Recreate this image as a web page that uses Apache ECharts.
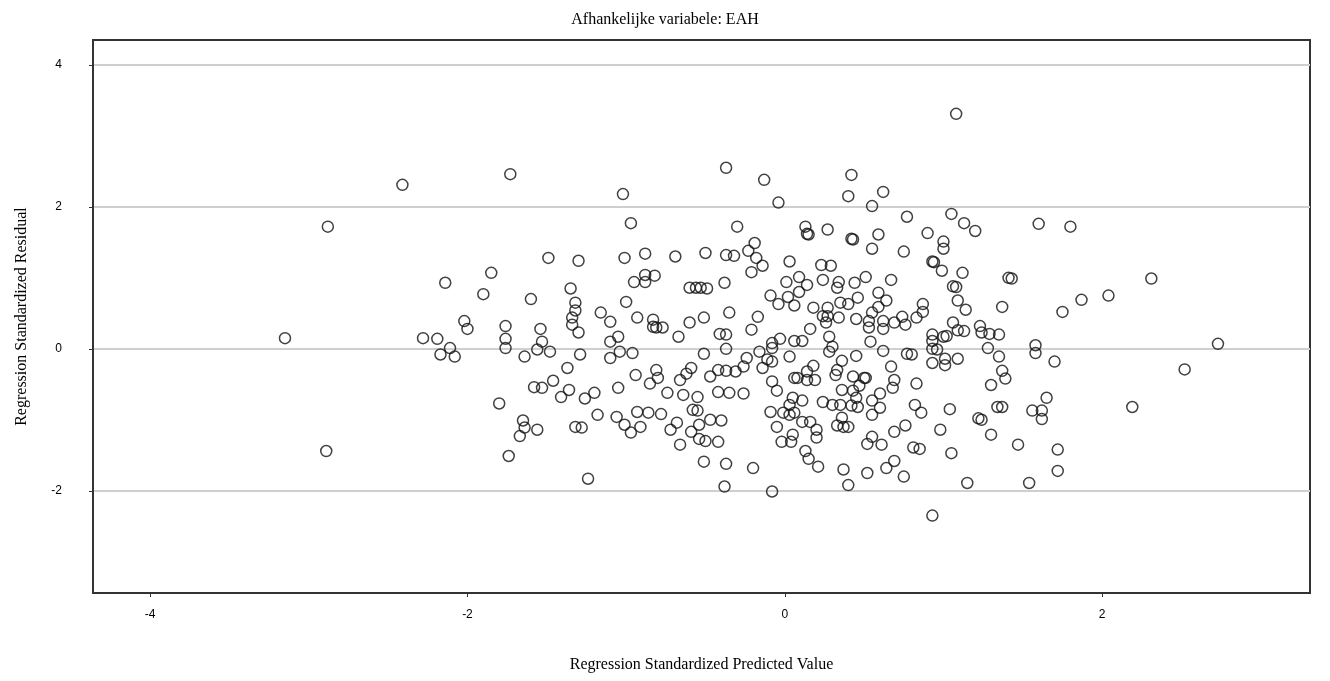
<!DOCTYPE html>
<html>
<head>
    <meta charset="utf-8">
    <title>Afhankelijke variabele: EAH</title>
    <script src="https://cdn.jsdelivr.net/npm/echarts@6.0.0/dist/echarts.min.js"></script>
    <style>
        html, body { margin: 0; padding: 0; background: #fff; }
    </style>
</head>
<body>
    <div id="main" style="width: 1330px;height:681px;"></div>
    <script type="text/javascript">
        // 刻度
        var xTicks = [-4, -2, 0, 2];
        var yTicks = [-2, 0, 2, 4];

        // 預測值 / 殘差
        var predicted = [
            -3.15, -2.89, -2.88, -2.41, -2.28, -2.19, -2.11, -2.14, -2.02, -2.00, -2.17, -2.08,
            -1.73, -1.02, -0.97, -1.49, -1.30, -1.01, -1.85, -1.90, -1.60, -1.35, -1.32, -1.32, -1.34, -1.34, -1.30,
            -1.00, -1.16, -1.10, -1.05, -1.10, -1.76, -1.76, -1.54, -1.53,
            -1.76, -1.64, -1.56, -1.48, -1.29, -1.10, -1.04, -1.37, -1.58, -1.53, -1.46, -1.41, -1.36, -1.26, -1.20,
            -1.05, -1.80, -1.18, -1.06, -1.01, -1.65, -1.64, -1.67, -1.56, -1.32, -1.28, -1.74, -1.24,
            -0.37, -0.13, -0.04, -0.30, -0.19, -0.23, -0.18, -0.14, -0.21, -0.88, -0.69, -0.50, -0.37, -0.32,
            -0.95, -0.88, -0.88, -0.82, -0.38, -0.60, -0.56, -0.53, -0.49, -0.09, -0.04, -0.93, -0.83, -0.83, -0.81,
            -0.77, -0.67, -0.60, -0.51, -0.35, -0.17, -0.41, -0.37, -0.21, -0.08, -0.03,
            -0.96, -0.51, -0.37, -0.24, -0.16, -0.08, -0.11, -0.08, -0.14, -0.94, -0.81, -0.80, -0.85, -0.66, -0.62,
            -0.59, -0.47, -0.42, -0.37, -0.31, -0.26, -0.74, -0.64, -0.55, -0.42, -0.35, -0.26, -0.08, -0.05, -0.93,
            -0.86, -0.78, -0.58, -0.55, -0.47, -0.40, -0.54, -0.68, -0.72, -0.59, -0.97, -0.91, -0.54, -0.50, -0.42,
            -0.66, -0.51, -0.37, -0.20, -0.38, -0.08, -0.09, -0.01, -0.05, -0.02,
            0.42, 0.40, 0.62, 0.55, 0.77, 1.05, 0.13, 0.14, 0.15, 0.27, 0.42, 0.43, 0.59, 0.55, 0.75, 0.90, 1.00, 1.00,
            0.03, 0.23, 0.29, 0.93, 0.94, 0.99, 0.09, 0.01, 0.14, 0.24, 0.34, 0.33, 0.44, 0.51, 0.67, 0.09, 0.02, 0.06,
            0.18, 0.27, 0.24, 0.26, 0.27, 0.35, 0.40, 0.34, 0.46, 0.59, 0.64, 0.59, 0.55, 0.45, 0.53, 0.53, 0.62, 0.62,
            0.69, 0.74, 0.76, 0.83, 0.87, 0.87, 0.16, 0.28, 0.93, 0.93, 1.00, 1.02, 0.06, 0.11, 0.54,
            0.03, 0.28, 0.30, 0.36, 0.45, 0.62, 0.77, 0.80, 0.93, 0.96, 0.93, 1.01, 1.01, 0.67, 0.18, 0.14, 0.14, 0.06,
            0.08, 0.19, 0.33, 0.32, 0.43, 0.50, 0.51, 0.47, 0.36, 0.43, 0.69, 0.68, 0.83, 0.05, 0.11, 0.24, 0.30, 0.35,
            0.42, 0.45, 0.46, 0.55, 0.60, 0.60, 0.55, 0.82, 0.86, 1.04, 0.03, 0.06, 0.03, 0.11, 0.16, 0.20, 0.20, 0.36,
            0.33, 0.37, 0.40, 0.05, 0.04, 0.13, 0.15, 0.21, 0.37, 0.40, 0.52, 0.55, 0.52, 0.61, 0.69, 0.76, 0.64, 0.69,
            0.75, 0.81, 0.85, 0.98, 1.05, 0.93,
            1.08, 1.13, 1.20, 1.60, 1.80, 1.12, 1.41, 1.43, 1.06, 1.08, 1.87, 2.04, 1.09, 1.14, 1.37, 1.75, 1.06, 1.13,
            1.09, 1.23, 1.24, 1.29, 1.35,
            1.28, 1.58, 1.58, 1.35, 1.09, 1.70, 1.37, 1.39, 1.30, 1.65, 1.34, 1.37, 1.56, 1.62, 1.62, 1.22, 1.24, 1.30,
            1.47, 1.72, 1.72, 1.15, 1.54,
            2.31, 2.73, 2.52, 2.19
        ];
        var residual = [
            0.15, -1.44, 1.72, 2.31, 0.15, 0.14, 0.01, 0.93, 0.39, 0.28, -0.08, -0.11,
            2.46, 2.18, 1.77, 1.28, 1.24, 1.28, 1.07, 0.77, 0.70, 0.85, 0.65, 0.54, 0.44, 0.34, 0.23,
            0.66, 0.51, 0.38, 0.17, 0.10, 0.32, 0.14, 0.28, 0.10,
            0.01, -0.11, -0.01, -0.04, -0.08, -0.13, -0.04, -0.27, -0.54, -0.55, -0.45, -0.68, -0.58, -0.70, -0.62,
            -0.55, -0.77, -0.93, -0.96, -1.07, -1.01, -1.11, -1.23, -1.14, -1.10, -1.11, -1.51, -1.83,
            2.55, 2.38, 2.06, 1.72, 1.49, 1.38, 1.28, 1.17, 1.08, 1.34, 1.30, 1.35, 1.32, 1.31,
            0.94, 0.94, 1.04, 1.03, 0.93, 0.86, 0.86, 0.86, 0.85, 0.75, 0.63, 0.44, 0.41, 0.31, 0.30,
            0.30, 0.17, 0.37, 0.44, 0.51, 0.45, 0.21, 0.20, 0.27, 0.08, 0.14,
            -0.06, -0.07, 0.00, -0.13, -0.04, 0.01, -0.15, -0.18, -0.27, -0.37, -0.30, -0.41, -0.49, -0.44, -0.35,
            -0.27, -0.39, -0.30, -0.31, -0.32, -0.25, -0.62, -0.65, -0.68, -0.61, -0.62, -0.63, -0.46, -0.59, -0.89,
            -0.90, -0.92, -0.86, -0.87, -1.00, -1.01, -1.07, -1.04, -1.14, -1.17, -1.18, -1.10, -1.27, -1.30, -1.31,
            -1.35, -1.59, -1.62, -1.68, -1.94, -2.01, -0.89, -0.90, -1.10, -1.31,
            2.45, 2.15, 2.21, 2.01, 1.86, 1.90, 1.72, 1.62, 1.61, 1.68, 1.55, 1.54, 1.61, 1.41, 1.37, 1.63, 1.51, 1.41,
            1.23, 1.18, 1.17, 1.23, 1.22, 1.10, 1.01, 0.94, 0.90, 0.97, 0.94, 0.86, 0.93, 1.01, 0.97, 0.80, 0.73, 0.61,
            0.58, 0.58, 0.46, 0.37, 0.46, 0.65, 0.63, 0.44, 0.72, 0.79, 0.68, 0.59, 0.51, 0.42, 0.39, 0.30, 0.39, 0.28,
            0.37, 0.45, 0.34, 0.44, 0.63, 0.52, 0.28, 0.17, 0.20, 0.11, 0.17, 0.18, 0.11, 0.11, 0.10,
            -0.11, -0.04, 0.03, -0.17, -0.10, -0.03, -0.07, -0.08, 0.00, -0.01, -0.20, -0.14, -0.23, -0.25, -0.24, -0.32, -0.44, -0.41,
            -0.41, -0.44, -0.30, -0.37, -0.39, -0.41, -0.41, -0.52, -0.58, -0.59, -0.44, -0.55, -0.49, -0.69, -0.73, -0.75, -0.79, -0.79,
            -0.80, -0.69, -0.82, -0.73, -0.63, -0.83, -0.93, -0.79, -0.90, -0.85, -0.79, -0.90, -0.93, -1.03, -1.03, -1.14, -1.25, -0.97,
            -1.08, -1.10, -1.10, -1.21, -1.31, -1.44, -1.55, -1.66, -1.70, -1.92, -1.75, -1.24, -1.34, -1.35, -1.17, -1.08, -1.68, -1.58,
            -1.80, -1.39, -1.41, -1.14, -1.47, -2.35,
            3.31, 1.77, 1.66, 1.76, 1.72, 1.07, 1.00, 0.99, 0.88, 0.87, 0.69, 0.75, 0.68, 0.55, 0.59, 0.52, 0.37, 0.25,
            0.26, 0.32, 0.23, 0.21, 0.20,
            0.01, 0.05, -0.06, -0.11, -0.14, -0.18, -0.31, -0.42, -0.51, -0.69, -0.82, -0.82, -0.87, -0.87, -0.99, -0.98, -1.00, -1.21,
            -1.35, -1.42, -1.72, -1.89, -1.89,
            0.99, 0.07, -0.29, -0.82
        ];

        var points = predicted.map(function (x, i) { return [x, residual[i]]; });

        var serif = '"Liberation Serif", "DejaVu Serif", serif';
        var sans = '"Liberation Sans", Arial, sans-serif';

        var option = {
            animation: false,
            backgroundColor: '#fff',
            title: {
                text: 'Afhankelijke variabele: EAH',
                left: 'center',
                top: 7,
                textStyle: { fontFamily: serif, fontSize: 16, fontWeight: 'normal', color: '#000' }
            },
            grid: {
                left: 93, top: 40, right: 20, bottom: 88,
                show: true,
                borderColor: '#333',
                borderWidth: 2,
                backgroundColor: '#fff'
            },
            xAxis: {
                type: 'value',
                min: -4.36,
                max: 3.31,
                name: 'Regression Standardized Predicted Value',
                nameLocation: 'middle',
                nameGap: 64,
                nameTextStyle: { fontFamily: serif, fontSize: 16, color: '#000' },
                axisLine: { show: true, onZero: false, lineStyle: { color: '#333', width: 2 } },
                axisTick: { show: true, length: 4, customValues: xTicks, lineStyle: { color: '#333' } },
                axisLabel: { customValues: xTicks, margin: 16, fontFamily: sans, fontSize: 12, color: '#000' },
                splitLine: { show: false }
            },
            yAxis: {
                type: 'value',
                min: -3.44,
                max: 4.35,
                name: 'Regression Standardized Residual',
                nameLocation: 'middle',
                nameGap: 63,
                nameTextStyle: { fontFamily: serif, fontSize: 16, color: '#000' },
                axisLine: { show: true, onZero: false, lineStyle: { color: '#333', width: 2 } },
                axisTick: { show: true, length: 4, customValues: yTicks, lineStyle: { color: '#333' } },
                axisLabel: { customValues: yTicks, margin: 31, fontFamily: sans, fontSize: 12, color: '#000' },
                splitLine: { show: true, lineStyle: { color: '#cfcfcf', width: 2 } }
            },
            series: [{
                type: 'scatter',
                data: points,
                symbol: 'circle',
                symbolSize: 11,
                itemStyle: { color: 'rgba(0,0,0,0)', borderColor: '#111', borderWidth: 1.5 },
                emphasis: { disabled: true }
            }]
        };

        var chart = echarts.init(document.getElementById('main'));
        chart.setOption(option);
    </script>
</body>
</html>
